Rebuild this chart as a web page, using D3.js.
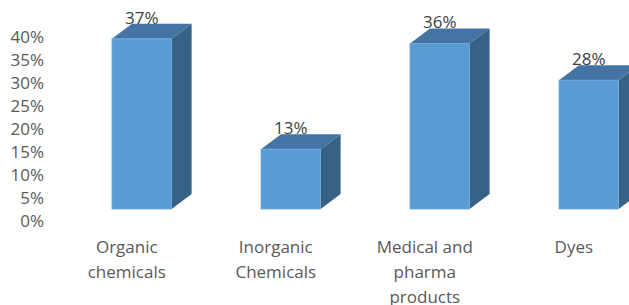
<!DOCTYPE html>
<html lang="en">
<head>
    <meta charset="UTF-8">
    <title>Chemical exports share</title>
    <style>
        body { margin: 0; background: #fff; }
        svg text { font-family: "Open Sans", sans-serif; }
    </style>
</head>
<body>
    <svg id="chart"></svg>

    <script src="https://d3js.org/d3.v7.min.js"></script>

    <script>
// chart data
const categories = ["Organic chemicals", "Inorganic Chemicals", "Medical and pharma products", "Dyes"];
const labelLines = [["Organic", "chemicals"], ["Inorganic", "Chemicals"], ["Medical and", "pharma", "products"], ["Dyes"]];
const shares = [0.37, 0.13, 0.36, 0.28];
const yTicks = [0, 0.05, 0.10, 0.15, 0.20, 0.25, 0.30, 0.35, 0.40];

const width = 629;
const height = 305;
const depthX = 20;   // 3d side offset
const depthY = 15;

const svg = d3.select("#chart")
    .attr("width", width)
    .attr("height", height);

// front face scale
const y = d3.scaleLinear()
    .domain([0, 0.40])
    .range([209, 25]);

const x = d3.scaleBand()
    .domain(categories)
    .range([67.3, 663.3])
    .paddingInner(0.6)
    .paddingOuter(0.3);

const bw = x.bandwidth();

// value axis (sits a bit lower, on the back wall)
const yAxis = d3.axisLeft(y)
    .tickValues(yTicks)
    .tickFormat(d3.format(".0%"))
    .tickSize(0)
    .tickPadding(0);

const axisG = svg.append("g")
    .attr("transform", "translate(44, 12)")
    .call(yAxis);
axisG.select(".domain").remove();
axisG.selectAll("text")
    .attr("font-family", "Open Sans")
    .style("font-size", "17px")
    .attr("fill", "#595959");

const bars = svg.selectAll(".bar")
    .data(categories.map((c, i) => ({ cat: c, value: shares[i], lines: labelLines[i] })))
    .enter()
    .append("g")
    .attr("class", "bar");

// right side
bars.append("path")
    .attr("d", d => {
        const x1 = x(d.cat) + bw;
        const yt = y(d.value), yb = y(0);
        return `M${x1},${yt} L${x1 + depthX},${yt - depthY} L${x1 + depthX},${yb - depthY} L${x1},${yb} Z`;
    })
    .attr("fill", "#386186");

// top
bars.append("path")
    .attr("d", d => {
        const x0 = x(d.cat), x1 = x0 + bw;
        const yt = y(d.value);
        return `M${x0},${yt} L${x0 + depthX},${yt - depthY} L${x1 + depthX},${yt - depthY} L${x1},${yt} Z`;
    })
    .attr("fill", "#4474a3");

// front
bars.append("rect")
    .attr("x", d => x(d.cat))
    .attr("y", d => y(d.value))
    .attr("width", bw)
    .attr("height", d => y(0) - y(d.value))
    .attr("fill", "#5b9bd5")
    .attr("stroke", "#6fa9dd")
    .attr("stroke-width", 0.8);

// data labels
bars.append("text")
    .attr("x", d => x(d.cat) + bw / 2)
    .attr("y", d => y(d.value) - depthY)
    .attr("text-anchor", "middle")
    .style("font-size", "17px")
    .attr("fill", "#404040")
    .text(d => d3.format(".0%")(d.value));

// category labels
const catText = bars.append("text")
    .attr("text-anchor", "middle")
    .style("font-size", "17px")
    .attr("fill", "#595959");

catText.selectAll("tspan")
    .data(d => d.lines.map(l => ({ line: l, cat: d.cat })))
    .enter()
    .append("tspan")
    .attr("x", d => x(d.cat) + bw / 2 - 15)
    .attr("y", (d, i) => 253 + i * 25)
    .text(d => d.line);
    </script>
</body>
</html>
